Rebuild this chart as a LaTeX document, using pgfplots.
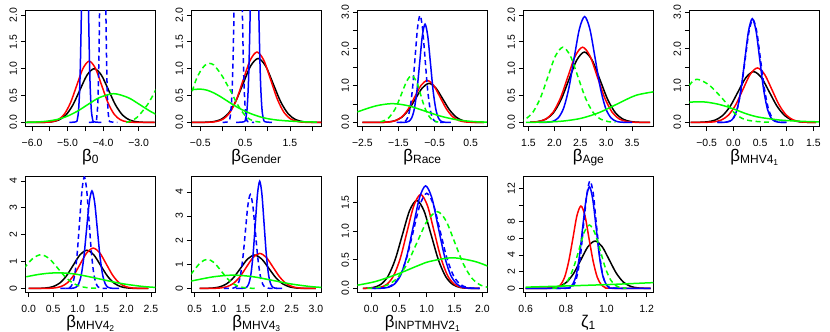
\documentclass[border=0pt]{standalone}
\usepackage{fontspec}
\setmainfont{Liberation Sans}
\usepackage{pgfplots}
\pgfplotsset{compat=1.18}
\definecolor{rblue}{RGB}{0,0,255}
\definecolor{rred}{RGB}{255,0,0}
\definecolor{rgreen}{RGB}{0,255,0}
\newcommand{\tl}{\fontsize{10.5}{10.5}\selectfont}
\newcommand{\sub}[1]{\raisebox{-2.5bp}{\fontsize{12}{12}\selectfont #1}}
\newcommand{\subsub}[1]{\raisebox{-2bp}{\fontsize{8.5}{8.5}\selectfont #1}}
\pgfplotsset{
  dens/.style={
    scale only axis, width=130bp, height=116bp, anchor=south west,
    axis line style={line width=0.8bp},
    tick align=outside, xtick pos=lower, ytick pos=left,
    major tick length=4.5bp, tick style={black, line width=0.7bp},
    xticklabel style={font=\tl, anchor=base, yshift=-15bp},
    yticklabel style={font=\tl, anchor=base, xshift=-4bp, rotate=90},
    xlabel style={font=\fontsize{17}{17}\selectfont, at={(axis description cs:0.5,0)}, anchor=base, yshift=-34.5bp},
    no markers,
    every axis plot/.append style={line width=1.5bp, smooth},
  },
  rdash/.style={dash pattern=on 5bp off 3.5bp},
}
\begin{document}
\begin{tikzpicture}
% ---- row 1 ----
\begin{axis}[dens, at={(25.3bp,205.3bp)},
  xmin=-6.19, xmax=-2.53, ymin=-0.08, ymax=2.08,
  xtick={-6,-5.5,-5,-4.5,-4,-3.5,-3}, xticklabels={−6.0,,−5.0,,−4.0,,−3.0},
  ytick={0,0.5,1,1.5,2}, yticklabels={0.0,0.5,1.0,1.5,2.0},
  xlabel={β\sub{0}}]
\addplot[black] coordinates {(-6.15,0)(-5.65,0.002)(-5.45,0.011)(-5.25,0.044)(-5.05,0.135)(-4.85,0.325)(-4.65,0.607)(-4.45,0.883)(-4.25,1.0)(-4.05,0.883)(-3.85,0.607)(-3.65,0.325)(-3.45,0.135)(-3.25,0.044)(-3.05,0.011)(-2.85,0.002)(-2.55,0)};
\addplot[rred] coordinates {(-6.15,0)(-5.615,0.003)(-5.44,0.013)(-5.265,0.05)(-5.09,0.154)(-4.915,0.37)(-4.74,0.691)(-4.565,1.006)(-4.39,1.14)(-4.215,1.006)(-4.04,0.691)(-3.865,0.37)(-3.69,0.154)(-3.515,0.05)(-3.34,0.013)(-3.165,0.003)(-2.55,0)};
\addplot[rblue] coordinates {(-4.95,0)(-4.759,0.012)(-4.723,0.062)(-4.688,0.246)(-4.652,0.758)(-4.617,1.818)(-4.581,3.396)(-4.546,4.942)(-4.51,5.6)(-4.474,4.942)(-4.439,3.396)(-4.403,1.818)(-4.368,0.758)(-4.333,0.246)(-4.297,0.062)(-4.262,0.012)(-4.05,0)};
\addplot[rblue, rdash] coordinates {(-4.4,0)(-4.21,0.015)(-4.181,0.078)(-4.153,0.307)(-4.124,0.947)(-4.096,2.273)(-4.067,4.246)(-4.039,6.178)(-4.01,7.0)(-3.982,6.178)(-3.953,4.246)(-3.925,2.273)(-3.896,0.947)(-3.868,0.307)(-3.839,0.078)(-3.811,0.015)(-3.6,0)};
\addplot[rgreen] coordinates {(-6.2,0.002)(-5.9,0.007)(-5.6,0.021)(-5.3,0.054)(-5.0,0.117)(-4.7,0.218)(-4.4,0.345)(-4.1,0.463)(-3.7,0.535)(-3.3,0.463)(-3.0,0.345)(-2.7,0.218)(-2.5,0.147)};
\addplot[rgreen, rdash] coordinates {(-3.35,0)(-3.2,0.03)(-3.05,0.09)(-2.9,0.2)(-2.75,0.33)(-2.6,0.5)(-2.45,0.7)};
\end{axis}

\begin{axis}[dens, at={(191.3bp,205.3bp)},
  xmin=-0.70, xmax=2.20, ymin=-0.08, ymax=2.08,
  xtick={-0.5,0,0.5,1,1.5,2}, xticklabels={−0.5,,0.5,,1.5,},
  ytick={0,0.5,1,1.5,2}, yticklabels={0.0,0.5,1.0,1.5,2.0},
  xlabel={β\sub{Gender}}]
\addplot[black] coordinates {(-0.68,0)(-0.383,0.003)(-0.215,0.013)(-0.048,0.052)(0.12,0.161)(0.288,0.386)(0.455,0.722)(0.623,1.05)(0.79,1.19)(0.958,1.05)(1.125,0.722)(1.293,0.386)(1.46,0.161)(1.628,0.052)(1.795,0.013)(1.963,0.003)(2.2,0)};
\addplot[rred] coordinates {(-0.68,0)(-0.303,0.003)(-0.15,0.015)(0.003,0.058)(0.155,0.177)(0.308,0.425)(0.46,0.795)(0.613,1.156)(0.765,1.31)(0.918,1.156)(1.07,0.795)(1.223,0.425)(1.375,0.177)(1.528,0.058)(1.68,0.015)(1.833,0.003)(2.2,0)};
\addplot[rblue] coordinates {(0.3,0)(0.479,0.013)(0.512,0.067)(0.545,0.263)(0.578,0.812)(0.611,1.948)(0.644,3.639)(0.677,5.295)(0.71,6.0)(0.743,5.295)(0.776,3.639)(0.809,1.948)(0.842,0.812)(0.875,0.263)(0.908,0.067)(0.941,0.013)(1.1,0)};
\addplot[rblue, rdash] coordinates {(0.0,0)(0.129,0.014)(0.16,0.071)(0.191,0.281)(0.222,0.866)(0.253,2.078)(0.284,3.882)(0.315,5.648)(0.346,6.4)(0.377,5.648)(0.408,3.882)(0.439,2.078)(0.47,0.866)(0.501,0.281)(0.532,0.071)(0.563,0.014)(0.7,0)};
\addplot[rgreen] coordinates {(-0.68,0.61)(-0.5,0.62)(-0.35,0.6)(-0.2,0.55)(-0.05,0.48)(0.1,0.4)(0.25,0.32)(0.4,0.25)(0.55,0.19)(0.7,0.14)(0.85,0.1)(1.0,0.07)(1.2,0.045)(1.4,0.03)(1.6,0.02)(1.8,0.012)(2.1,0.006)};
\addplot[rgreen, rdash] coordinates {(-0.68,0.58)(-0.6,0.78)(-0.5,0.95)(-0.4,1.06)(-0.3,1.1)(-0.2,1.07)(-0.1,0.97)(0.0,0.85)(0.1,0.7)(0.2,0.55)(0.3,0.38)(0.4,0.24)(0.5,0.13)(0.6,0.06)(0.7,0.025)(0.8,0.01)(0.9,0)};
\end{axis}

\begin{axis}[dens, at={(357.3bp,205.3bp)},
  xmin=-2.64, xmax=0.96, ymin=-0.117, ymax=3.037,
  xtick={-2.5,-2,-1.5,-1,-0.5,0,0.5}, xticklabels={−2.5,,−1.5,,−0.5,,0.5},
  ytick={0,0.5,1,1.5,2,2.5,3}, yticklabels={0.0,,1.0,,2.0,,3.0},
  xlabel={β\sub{Race}}]
\addplot[black] coordinates {(-2.5,0)(-1.969,0.002)(-1.781,0.012)(-1.593,0.047)(-1.405,0.143)(-1.217,0.344)(-1.029,0.643)(-0.841,0.935)(-0.653,1.06)(-0.465,0.935)(-0.277,0.643)(-0.089,0.344)(0.099,0.143)(0.287,0.047)(0.475,0.012)(0.663,0.002)(0.87,0)};
\addplot[rred] coordinates {(-2.5,0)(-1.925,0.003)(-1.75,0.013)(-1.575,0.05)(-1.4,0.154)(-1.225,0.37)(-1.05,0.691)(-0.875,1.006)(-0.7,1.14)(-0.525,1.006)(-0.35,0.691)(-0.175,0.37)(0.0,0.154)(0.175,0.05)(0.35,0.013)(0.525,0.003)(0.87,0)};
\addplot[rblue] coordinates {(-1.45,0)(-1.286,0.006)(-1.211,0.03)(-1.137,0.117)(-1.062,0.361)(-0.988,0.867)(-0.913,1.619)(-0.839,2.356)(-0.764,2.67)(-0.69,2.356)(-0.615,1.619)(-0.541,0.867)(-0.466,0.361)(-0.392,0.117)(-0.317,0.03)(-0.243,0.006)(-0.05,0)};
\addplot[rblue, rdash] coordinates {(-1.55,0)(-1.383,0.006)(-1.314,0.032)(-1.246,0.128)(-1.177,0.394)(-1.109,0.945)(-1.04,1.765)(-0.972,2.568)(-0.903,2.91)(-0.835,2.568)(-0.766,1.765)(-0.698,0.945)(-0.629,0.394)(-0.561,0.128)(-0.492,0.032)(-0.424,0.006)(-0.25,0)};
\addplot[rgreen] coordinates {(-2.64,0.285)(-2.57,0.309)(-2.12,0.45)(-1.67,0.51)(-1.22,0.45)(-0.77,0.309)(-0.32,0.166)(0.13,0.069)(0.58,0.022)(0.95,0.007)};
\addplot[rgreen, rdash] coordinates {(-2.0,0.017)(-1.8,0.096)(-1.6,0.35)(-1.45,0.69)(-1.3,1.06)(-1.2,1.23)(-1.12,1.27)(-1.0,1.11)(-0.9,0.8)(-0.8,0.48)(-0.7,0.24)(-0.6,0.1)(-0.5,0.033)(-0.4,0.01)};
\end{axis}

\begin{axis}[dens, at={(523.3bp,205.3bp)},
  xmin=1.40, xmax=3.91, ymin=-0.08, ymax=2.08,
  xtick={1.5,2,2.5,3,3.5}, xticklabels={1.5,2.0,2.5,3.0,3.5},
  ytick={0,0.5,1,1.5,2}, yticklabels={0.0,0.5,1.0,1.5,2.0},
  xlabel={β\sub{Age}}]
\addplot[black] coordinates {(1.53,0.003)(1.68,0.015)(1.83,0.058)(1.98,0.177)(2.13,0.425)(2.28,0.795)(2.43,1.156)(2.58,1.31)(2.73,1.156)(2.88,0.795)(3.03,0.425)(3.18,0.177)(3.33,0.058)(3.48,0.015)(3.63,0.003)(3.85,0)};
\addplot[rred] coordinates {(1.548,0.003)(1.69,0.016)(1.833,0.062)(1.975,0.189)(2.118,0.455)(2.26,0.849)(2.403,1.236)(2.545,1.4)(2.688,1.236)(2.83,0.849)(2.973,0.455)(3.115,0.189)(3.258,0.062)(3.4,0.016)(3.543,0.003)(3.85,0)};
\addplot[rblue] coordinates {(1.7,0)(1.875,0.004)(1.976,0.022)(2.077,0.087)(2.179,0.267)(2.28,0.64)(2.381,1.195)(2.483,1.739)(2.584,1.97)(2.685,1.739)(2.787,1.195)(2.888,0.64)(2.989,0.267)(3.091,0.087)(3.192,0.022)(3.293,0.004)(3.5,0)};
\addplot[rgreen] coordinates {(1.45,0.001)(1.82,0.006)(2.17,0.025)(2.52,0.077)(2.87,0.185)(3.22,0.346)(3.57,0.503)(3.92,0.57)};
\addplot[rgreen, rdash] coordinates {(1.15,0.003)(1.295,0.016)(1.44,0.062)(1.585,0.189)(1.73,0.455)(1.875,0.849)(2.02,1.236)(2.165,1.4)(2.31,1.236)(2.455,0.849)(2.6,0.455)(2.745,0.189)(2.89,0.062)(3.035,0.016)(3.18,0.003)};
\end{axis}

\begin{axis}[dens, at={(689.3bp,205.3bp)},
  xmin=-0.825, xmax=1.61, ymin=-0.117, ymax=3.037,
  xtick={-0.5,0,0.5,1,1.5}, xticklabels={−0.5,0.0,0.5,1.0,1.5},
  ytick={0,0.5,1,1.5,2,2.5,3}, yticklabels={0.0,,1.0,,2.0,,3.0},
  xlabel={β\sub{MHV4\subsub{1}}}]
\addplot[black] coordinates {(-0.8,0)(-0.635,0.003)(-0.49,0.015)(-0.345,0.061)(-0.2,0.187)(-0.055,0.448)(0.09,0.837)(0.235,1.218)(0.38,1.38)(0.525,1.218)(0.67,0.837)(0.815,0.448)(0.96,0.187)(1.105,0.061)(1.25,0.015)(1.395,0.003)(1.55,0)};
\addplot[rred] coordinates {(-0.8,0)(-0.495,0.003)(-0.36,0.016)(-0.225,0.065)(-0.09,0.2)(0.045,0.481)(0.18,0.898)(0.315,1.306)(0.45,1.48)(0.585,1.306)(0.72,0.898)(0.855,0.481)(0.99,0.2)(1.125,0.065)(1.26,0.016)(1.395,0.003)(1.55,0)};
\addplot[rblue] coordinates {(-0.3,0)(-0.135,0.006)(-0.065,0.031)(0.005,0.124)(0.075,0.382)(0.145,0.916)(0.215,1.71)(0.285,2.489)(0.355,2.82)(0.425,2.489)(0.495,1.71)(0.565,0.916)(0.635,0.382)(0.705,0.124)(0.775,0.031)(0.845,0.006)(1.0,0)};
\addplot[rblue, rdash] coordinates {(-0.3,0)(-0.143,0.006)(-0.07,0.031)(0.003,0.123)(0.075,0.379)(0.148,0.909)(0.22,1.698)(0.293,2.471)(0.365,2.8)(0.438,2.471)(0.51,1.698)(0.583,0.909)(0.655,0.379)(0.728,0.123)(0.8,0.031)(0.873,0.006)(1.0,0)};
\addplot[rgreen] coordinates {(-0.83,0.55)(-0.75,0.555)(-0.625,0.56)(-0.5,0.55)(-0.3,0.5)(-0.125,0.43)(0.05,0.34)(0.25,0.23)(0.45,0.15)(0.69,0.095)(0.9,0.06)(1.125,0.04)(1.35,0.025)(1.6,0.015)};
\addplot[rgreen, rdash] coordinates {(-0.83,1.0)(-0.76,1.12)(-0.69,1.17)(-0.6,1.14)(-0.44,1.0)(-0.25,0.72)(-0.09,0.45)(0.03,0.24)(0.15,0.12)(0.25,0.065)(0.4,0.03)(0.55,0.012)(0.7,0.004)};
\end{axis}

% ---- row 2 ----
\begin{axis}[dens, at={(25.3bp,39.3bp)},
  xmin=-0.07, xmax=2.59, ymin=-0.16, ymax=4.16,
  xtick={0,0.5,1,1.5,2,2.5}, xticklabels={0.0,0.5,1.0,1.5,2.0,2.5},
  ytick={0,1,2,3,4}, yticklabels={0,1,2,3,4},
  xlabel={β\sub{MHV4\subsub{2}}}]
\addplot[black] coordinates {(0.0,0)(0.21,0.003)(0.35,0.016)(0.49,0.062)(0.63,0.192)(0.77,0.461)(0.91,0.861)(1.05,1.253)(1.19,1.42)(1.33,1.253)(1.47,0.861)(1.61,0.461)(1.75,0.192)(1.89,0.062)(2.03,0.016)(2.17,0.003)(2.45,0)};
\addplot[rred] coordinates {(0.0,0)(0.389,0.003)(0.522,0.017)(0.655,0.066)(0.788,0.203)(0.921,0.487)(1.054,0.91)(1.187,1.324)(1.32,1.5)(1.453,1.324)(1.586,0.91)(1.719,0.487)(1.852,0.203)(1.985,0.066)(2.118,0.017)(2.251,0.003)(2.45,0)};
\addplot[rblue] coordinates {(0.75,0)(0.909,0.008)(0.964,0.04)(1.019,0.159)(1.074,0.491)(1.129,1.179)(1.184,2.202)(1.239,3.203)(1.294,3.63)(1.349,3.203)(1.404,2.202)(1.459,1.179)(1.514,0.491)(1.569,0.159)(1.624,0.04)(1.679,0.008)(1.85,0)};
\addplot[rblue, rdash] coordinates {(0.65,0)(0.802,0.009)(0.85,0.046)(0.898,0.182)(0.946,0.561)(0.994,1.348)(1.042,2.517)(1.09,3.662)(1.138,4.15)(1.186,3.662)(1.234,2.517)(1.282,1.348)(1.33,0.561)(1.378,0.182)(1.426,0.046)(1.474,0.009)(1.6,0)};
\addplot[rgreen] coordinates {(-0.05,0.433)(0.175,0.512)(0.39,0.562)(0.6,0.58)(0.81,0.562)(1.025,0.512)(1.45,0.352)(1.875,0.188)(2.3,0.079)(2.6,0.036)};
\addplot[rgreen, rdash] coordinates {(-0.1,0.74)(0.08,1.108)(0.25,1.255)(0.42,1.108)(0.59,0.761)(0.76,0.408)(0.93,0.17)(1.1,0.055)(1.27,0.014)(1.44,0.003)};
\end{axis}

\begin{axis}[dens, at={(191.3bp,39.3bp)},
  xmin=0.43, xmax=3.11, ymin=-0.178, ymax=4.628,
  xtick={0.5,1,1.5,2,2.5,3}, xticklabels={0.5,1.0,1.5,2.0,2.5,3.0},
  ytick={0,1,2,3,4}, yticklabels={0,1,2,3,4},
  xlabel={β\sub{MHV4\subsub{3}}}]
\addplot[black] coordinates {(0.6,0)(0.721,0.003)(0.866,0.015)(1.011,0.061)(1.156,0.187)(1.301,0.448)(1.446,0.837)(1.591,1.218)(1.736,1.38)(1.881,1.218)(2.026,0.837)(2.171,0.448)(2.316,0.187)(2.461,0.061)(2.606,0.015)(2.751,0.003)(3.0,0)};
\addplot[rred] coordinates {(0.6,0)(0.878,0.003)(1.015,0.016)(1.153,0.064)(1.29,0.196)(1.428,0.471)(1.565,0.879)(1.703,1.28)(1.84,1.45)(1.978,1.28)(2.115,0.879)(2.253,0.471)(2.39,0.196)(2.528,0.064)(2.665,0.016)(2.803,0.003)(3.0,0)};
\addplot[rblue] coordinates {(1.35,0)(1.525,0.01)(1.57,0.049)(1.615,0.195)(1.66,0.601)(1.705,1.442)(1.75,2.693)(1.795,3.918)(1.84,4.44)(1.885,3.918)(1.93,2.693)(1.975,1.442)(2.02,0.601)(2.065,0.195)(2.11,0.049)(2.155,0.01)(2.3,0)};
\addplot[rblue, rdash] coordinates {(1.1,0)(1.288,0.009)(1.339,0.043)(1.391,0.171)(1.442,0.526)(1.493,1.263)(1.545,2.359)(1.596,3.433)(1.647,3.89)(1.698,3.433)(1.75,2.359)(1.801,1.263)(1.852,0.526)(1.904,0.171)(1.955,0.043)(2.006,0.009)(2.2,0)};
\addplot[rgreen] coordinates {(0.42,0.3)(0.5,0.334)(0.9,0.485)(1.3,0.55)(1.7,0.485)(2.1,0.334)(2.5,0.179)(2.9,0.074)(3.15,0.038)};
\addplot[rgreen, rdash] coordinates {(0.42,0.58)(0.48,0.734)(0.62,1.068)(0.76,1.21)(0.9,1.068)(1.04,0.734)(1.18,0.393)(1.32,0.164)(1.46,0.053)(1.6,0.013)(1.74,0.003)};
\end{axis}

\begin{axis}[dens, at={(357.3bp,39.3bp)},
  xmin=-0.25, xmax=2.09, ymin=-0.075, ymax=1.95,
  xtick={0,0.5,1,1.5,2}, xticklabels={0.0,0.5,1.0,1.5,2.0},
  ytick={0,0.5,1,1.5}, yticklabels={0.0,0.5,1.0,1.5},
  xlabel={β\sub{INPTMHV2\subsub{1}}}]
\addplot[black] coordinates {(-0.15,0)(-0.09,0.003)(0.04,0.017)(0.17,0.067)(0.3,0.208)(0.43,0.498)(0.56,0.931)(0.69,1.355)(0.82,1.535)(0.95,1.355)(1.08,0.931)(1.21,0.498)(1.34,0.208)(1.47,0.067)(1.6,0.017)(1.73,0.003)(1.95,0)};
\addplot[rred] coordinates {(-0.15,0)(0.04,0.004)(0.161,0.018)(0.283,0.072)(0.404,0.222)(0.526,0.533)(0.647,0.995)(0.769,1.447)(0.89,1.64)(1.012,1.447)(1.133,0.995)(1.255,0.533)(1.376,0.222)(1.498,0.072)(1.619,0.018)(1.741,0.004)(1.95,0)};
\addplot[rblue] coordinates {(0.05,0)(0.2,0.004)(0.312,0.02)(0.423,0.079)(0.535,0.242)(0.646,0.581)(0.758,1.086)(0.869,1.58)(0.98,1.79)(1.092,1.58)(1.203,1.086)(1.315,0.581)(1.426,0.242)(1.538,0.079)(1.649,0.02)(1.761,0.004)(1.95,0)};
\addplot[rblue, rdash] coordinates {(0.0,0)(0.16,0.004)(0.28,0.018)(0.4,0.073)(0.52,0.225)(0.64,0.539)(0.76,1.007)(0.88,1.465)(1.0,1.66)(1.12,1.465)(1.24,1.007)(1.36,0.539)(1.48,0.225)(1.6,0.073)(1.72,0.018)(1.84,0.004)(1.95,0)};
\addplot[rgreen] coordinates {(-0.3,0.048)(0.06,0.116)(0.46,0.245)(0.86,0.404)(1.06,0.472)(1.46,0.535)(1.86,0.472)(2.1,0.388)};
\addplot[rgreen, rdash] coordinates {(-0.07,0.003)(0.11,0.015)(0.29,0.059)(0.47,0.181)(0.65,0.435)(0.83,0.813)(1.01,1.183)(1.19,1.34)(1.345,1.183)(1.5,0.813)(1.655,0.435)(1.81,0.181)(1.965,0.059)(2.12,0.015)};
\end{axis}

\begin{axis}[dens, at={(523.3bp,39.3bp)},
  xmin=0.588, xmax=1.233, ymin=-0.516, ymax=13.4,
  xtick={0.6,0.7,0.8,0.9,1.0,1.1,1.2}, xticklabels={0.6,,0.8,,1.0,,1.2},
  ytick={0,2,4,6,8,10,12}, yticklabels={0,2,4,6,8,,12},
  xlabel={ζ\sub{1}}]
\addplot[black] coordinates {(0.6,0)(0.698,0.013)(0.733,0.063)(0.769,0.249)(0.804,0.769)(0.839,1.844)(0.874,3.445)(0.909,5.013)(0.944,5.68)(0.979,5.013)(1.014,3.445)(1.049,1.844)(1.084,0.769)(1.12,0.249)(1.155,0.063)(1.19,0.013)(1.22,0)};
\addplot[rred] coordinates {(0.6,0)(0.733,0.022)(0.753,0.11)(0.773,0.434)(0.793,1.337)(0.813,3.208)(0.834,5.992)(0.854,8.719)(0.874,9.88)(0.894,8.719)(0.914,5.992)(0.935,3.208)(0.955,1.337)(0.975,0.434)(0.995,0.11)(1.015,0.022)(1.22,0)};
\addplot[rblue] coordinates {(0.6,0)(0.802,0.027)(0.818,0.135)(0.834,0.536)(0.851,1.651)(0.867,3.961)(0.883,7.399)(0.9,10.767)(0.916,12.2)(0.932,10.767)(0.949,7.399)(0.965,3.961)(0.981,1.651)(0.998,0.536)(1.014,0.135)(1.031,0.027)(1.22,0)};
\addplot[rblue, rdash] coordinates {(0.75,0)(0.811,0.028)(0.826,0.143)(0.842,0.566)(0.857,1.745)(0.873,4.189)(0.888,7.824)(0.904,11.384)(0.919,12.9)(0.935,11.384)(0.95,7.824)(0.966,4.189)(0.981,1.745)(0.997,0.566)(1.012,0.143)(1.028,0.028)(1.1,0)};
\addplot[rgreen] coordinates {(0.6,0.15)(0.7,0.22)(0.8,0.29)(0.9,0.37)(1.0,0.45)(1.1,0.55)(1.24,0.7)};
\addplot[rgreen, rdash] coordinates {(0.732,0.017)(0.759,0.084)(0.785,0.334)(0.811,1.028)(0.837,2.468)(0.864,4.609)(0.89,6.707)(0.916,7.6)(0.942,6.707)(0.969,4.609)(0.995,2.468)(1.021,1.028)(1.047,0.334)(1.074,0.084)(1.1,0.017)};
\end{axis}

\pgfresetboundingbox
\path (0,0) rectangle (830bp,332bp);
\end{tikzpicture}
\end{document}
